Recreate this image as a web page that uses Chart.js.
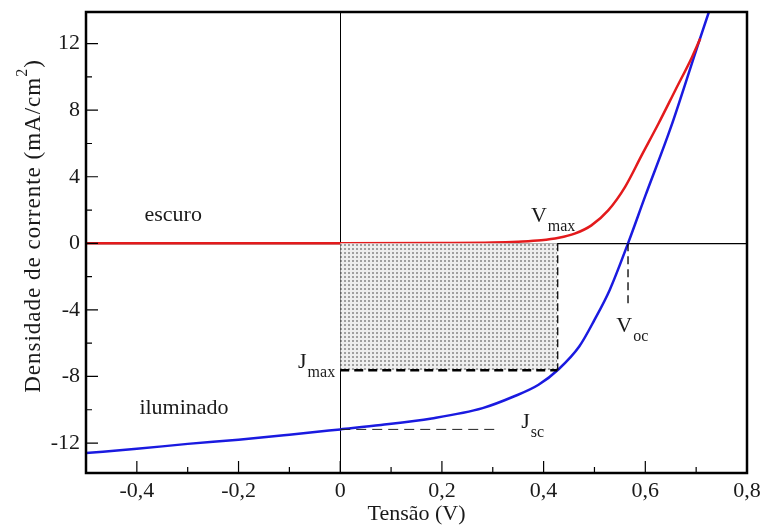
<!DOCTYPE html>
<html>
<head>
<meta charset="utf-8">
<script src="https://cdn.jsdelivr.net/npm/chart.js@4.4.1/dist/chart.umd.min.js"></script>
<style>
  html, body { margin: 0; padding: 0; background: #fff; }
  #wrap { width: 763px; height: 527px; }
</style>
</head>
<body>
<div id="wrap"><canvas id="grafico"></canvas></div>
<script>
// curva no escuro (vermelho)
const escuroV = [-0.5, 0, 0.2, 0.3, 0.35, 0.395, 0.43, 0.461, 0.494, 0.527, 0.56, 0.593, 0.626, 0.659, 0.692, 0.708];
const escuroJ = [0, 0, 0.02, 0.05, 0.1, 0.18, 0.33, 0.58, 1.08, 1.98, 3.38, 5.3, 7.2, 9.2, 11.2, 12.3];

// curva iluminada (azul)
const ilumV = [-0.5, -0.4, -0.3, -0.2, -0.1, 0, 0.08, 0.18, 0.28, 0.34, 0.39, 0.43, 0.47, 0.5, 0.53, 0.566, 0.6, 0.65, 0.7, 0.725, 0.74];
const ilumJ = [-12.6, -12.35, -12.05, -11.8, -11.5, -11.18, -10.92, -10.52, -9.9, -9.22, -8.5, -7.55, -6.2, -4.6, -2.8, 0, 2.85, 6.95, 11.6, 13.9, 15.2];

// pontos caracteristicos
const Vmax = 0.427, Jmax = -7.62;
const Voc = 0.566, VocFim = -3.6;
const Jsc = -11.18, JscFim = 0.312;

// eixos
const xTicks = [-0.4, -0.2, 0, 0.2, 0.4, 0.6, 0.8];
const xMinor = [-0.5, -0.3, -0.1, 0.1, 0.3, 0.5, 0.7];
const yTicks = [-12, -8, -4, 0, 4, 8, 12];
const yMinor = [-10, -6, -2, 2, 6, 10];

const fonte = "'Liberation Serif', 'Times New Roman', serif";
const corTexto = '#1a1a1a';

function pares(xs, ys) {
    return xs.map((x, i) => ({ x: x, y: ys[i] }));
}

// padrao pontilhado da area de potencia maxima
function padrao() {
    const c = document.createElement('canvas');
    c.width = 4; c.height = 4;
    const g = c.getContext('2d');
    g.fillStyle = '#eeeeee';
    g.fillRect(0, 0, 4, 4);
    g.fillStyle = '#a0a0a0';
    g.fillRect(0, 0, 2, 2);
    return g.createPattern(c, 'repeat');
}

function virgula(v) {
    if (v === 0) return '0';
    return v.toFixed(1).replace('.', ',');
}

const anotacoes = [
    { txt: 'escuro', sub: '', x: -0.385, y: 1.32 },
    { txt: 'iluminado', sub: '', x: -0.395, y: -10.26 },
    { txt: 'V', sub: 'max', x: 0.375, y: 1.26 },
    { txt: 'V', sub: 'oc', x: 0.543, y: -5.34 },
    { txt: 'J', sub: 'max', x: -0.083, y: -7.5 },
    { txt: 'J', sub: 'sc', x: 0.356, y: -11.1 }
];

const extras = {
    id: 'extras',
    afterDatasetsDraw(chart) {
        const ctx = chart.ctx;
        const a = chart.chartArea;
        const sx = chart.scales.x, sy = chart.scales.y;
        ctx.save();

        // tracinhos internos
        ctx.strokeStyle = '#000';
        ctx.lineWidth = 1.2;
        ctx.beginPath();
        xTicks.forEach(v => { const p = sx.getPixelForValue(v); ctx.moveTo(p, a.bottom); ctx.lineTo(p, a.bottom - 12); });
        xMinor.forEach(v => { const p = sx.getPixelForValue(v); ctx.moveTo(p, a.bottom); ctx.lineTo(p, a.bottom - 6); });
        yTicks.forEach(v => { const p = sy.getPixelForValue(v); ctx.moveTo(a.left, p); ctx.lineTo(a.left + 12, p); });
        yMinor.forEach(v => { const p = sy.getPixelForValue(v); ctx.moveTo(a.left, p); ctx.lineTo(a.left + 6, p); });
        ctx.stroke();

        // moldura
        ctx.lineWidth = 2.5;
        ctx.strokeRect(a.left, a.top, a.right - a.left, a.bottom - a.top);

        // rotulos
        ctx.fillStyle = corTexto;
        ctx.textBaseline = 'alphabetic';
        ctx.textAlign = 'left';
        anotacoes.forEach(n => {
            const px = sx.getPixelForValue(n.x), py = sy.getPixelForValue(n.y);
            ctx.font = '22px ' + fonte;
            ctx.fillText(n.txt, px, py);
            if (n.sub) {
                const w = ctx.measureText(n.txt).width;
                ctx.font = '16px ' + fonte;
                ctx.fillText(n.sub, px + w + 1, py + 9);
            }
        });

        // titulo do eixo y
        const base = 'Densidade de corrente (mA/cm';
        ctx.font = '23px ' + fonte;
        ctx.letterSpacing = '1px';
        const w1 = ctx.measureText(base).width;
        const w3 = ctx.measureText(')').width;
        ctx.font = '16px ' + fonte;
        const w2 = ctx.measureText('2').width;
        const total = w1 + w2 + w3;
        ctx.translate(40, 226);
        ctx.rotate(-Math.PI / 2);
        ctx.font = '23px ' + fonte;
        ctx.fillText(base, -total / 2, 0);
        ctx.font = '16px ' + fonte;
        ctx.fillText('2', -total / 2 + w1, -13);
        ctx.font = '23px ' + fonte;
        ctx.fillText(')', -total / 2 + w1 + w2, 0);
        ctx.restore();
    }
};

const ctx = document.getElementById('grafico').getContext('2d');

new Chart(ctx, {
    type: 'line',
    data: {
        datasets: [
            {
                label: 'area',
                data: [{ x: 0, y: Jmax }, { x: Vmax, y: Jmax }],
                borderColor: '#000',
                borderWidth: 2.5,
                borderDash: [9, 5],
                backgroundColor: padrao(),
                fill: 'origin',
                pointRadius: 0
            },
            {
                label: 'lado',
                data: [{ x: Vmax, y: 0 }, { x: Vmax, y: Jmax }],
                borderColor: '#000',
                borderWidth: 2,
                borderDash: [8, 4],
                pointRadius: 0
            },
            {
                label: 'voc',
                data: [{ x: Voc, y: 0 }, { x: Voc, y: VocFim }],
                borderColor: '#000',
                borderWidth: 1.3,
                borderDash: [8, 5],
                pointRadius: 0
            },
            {
                label: 'jsc',
                data: [{ x: 0, y: Jsc }, { x: JscFim, y: Jsc }],
                borderColor: '#222',
                borderWidth: 1,
                borderDash: [10, 6],
                pointRadius: 0
            },
            {
                label: 'escuro',
                data: pares(escuroV, escuroJ),
                borderColor: '#e31a1c',
                borderWidth: 2.5,
                cubicInterpolationMode: 'monotone',
                pointRadius: 0
            },
            {
                label: 'iluminado',
                data: pares(ilumV, ilumJ),
                borderColor: '#1a1ae0',
                borderWidth: 2.5,
                cubicInterpolationMode: 'monotone',
                pointRadius: 0
            }
        ]
    },
    options: {
        responsive: true,
        maintainAspectRatio: false,
        animation: false,
        layout: { padding: { top: 12, right: 16, left: 0, bottom: 0 } },
        plugins: {
            legend: { display: false },
            tooltip: { enabled: false }
        },
        scales: {
            x: {
                type: 'linear',
                min: -0.5,
                max: 0.8,
                afterBuildTicks: s => { s.ticks = xTicks.map(v => ({ value: v })); },
                afterFit: s => { s.height = 54; s.paddingLeft = 0; s.paddingRight = 0; },
                ticks: {
                    callback: v => virgula(v),
                    font: { family: fonte, size: 22 },
                    color: corTexto,
                    padding: 5,
                    maxRotation: 0,
                    autoSkip: false
                },
                grid: {
                    drawTicks: false,
                    color: c => (c.tick && c.tick.value === 0 ? '#000' : 'rgba(0,0,0,0)'),
                    lineWidth: 1
                },
                border: { display: false },
                title: {
                    display: true,
                    text: 'Tensão (V)',
                    font: { family: fonte, size: 22 },
                    color: corTexto,
                    padding: 0
                }
            },
            y: {
                type: 'linear',
                min: -13.8,
                max: 13.9,
                afterBuildTicks: s => { s.ticks = yTicks.map(v => ({ value: v })); },
                afterFit: s => { s.width = 86; s.paddingTop = 0; s.paddingBottom = 0; },
                ticks: {
                    callback: v => String(v),
                    font: { family: fonte, size: 22 },
                    color: corTexto,
                    padding: 6,
                    autoSkip: false
                },
                grid: {
                    drawTicks: false,
                    color: c => (c.tick && c.tick.value === 0 ? '#000' : 'rgba(0,0,0,0)'),
                    lineWidth: 1.3
                },
                border: { display: false }
            }
        }
    },
    plugins: [extras]
});
</script>
</body>
</html>
